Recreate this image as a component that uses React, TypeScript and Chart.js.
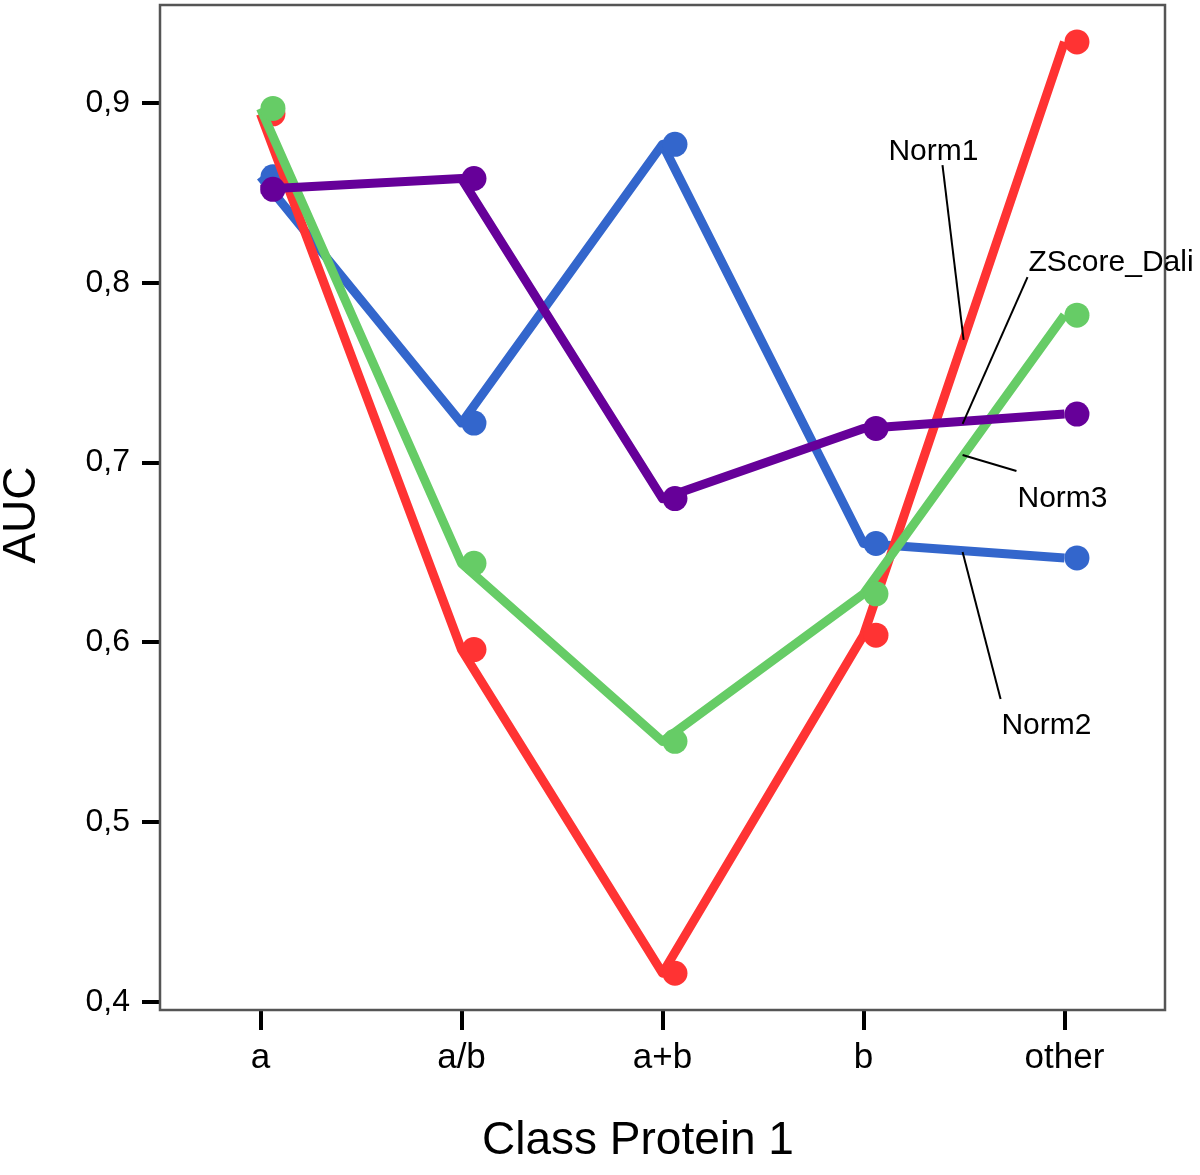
import React, { useEffect, useRef } from "react";
import { Chart, registerables } from "chart.js";

Chart.register(...registerables);

// ---- data ----
const categories = ["a", "a/b", "a+b", "b", "other"];
const norm1 = [0.894, 0.596, 0.416, 0.604, 0.934];
const norm2 = [0.859, 0.722, 0.877, 0.655, 0.647];
const norm3 = [0.897, 0.644, 0.545, 0.627, 0.782];
const zscoreDali = [0.852, 0.858, 0.68, 0.719, 0.727];
const yTickValues = [0.4, 0.5, 0.6, 0.7, 0.8, 0.9];
const seriesNames = ["Norm1", "Norm2", "Norm3", "ZScore_Dali"];

// label annotations (in data units: x = category index, y = AUC)
const annotations = [
  { text: "Norm1", align: "center", at: [3.348, 0.8727], from: [3.393, 0.8655], to: [3.498, 0.7682] },
  { text: "ZScore_Dali", align: "left", at: [3.821, 0.811], from: [3.816, 0.8032], to: [3.493, 0.7215] },
  { text: "Norm3", align: "center", at: [3.99, 0.6798], from: [3.761, 0.6953], to: [3.493, 0.7042] },
  { text: "Norm2", align: "center", at: [3.91, 0.5535], from: [3.682, 0.5685], to: [3.493, 0.6503] },
];

const COLORS = {
  Norm1: "#ff3333",
  Norm2: "#3366cc",
  Norm3: "#66cc66",
  ZScore_Dali: "#660099",
};
const MARKER_SHIFT = 0.062;
const FONT = "'Liberation Sans', Arial, sans-serif";

const seriesValues: Record<string, number[]> = {
  Norm1: norm1,
  Norm2: norm2,
  Norm3: norm3,
  ZScore_Dali: zscoreDali,
};
// drawing order: lower "order" is drawn on top
const seriesOrder: Record<string, number> = { ZScore_Dali: 1, Norm3: 3, Norm1: 5, Norm2: 7 };

const framePlugin = {
  id: "frameAndText",
  beforeDatasetsDraw(chart: any) {
    const { ctx, chartArea } = chart;
    ctx.save();
    ctx.strokeStyle = "#555555";
    ctx.lineWidth = 2.5;
    ctx.strokeRect(chartArea.left, chartArea.top, chartArea.right - chartArea.left, chartArea.bottom - chartArea.top);
    ctx.restore();
  },
  afterDraw(chart: any) {
    const { ctx } = chart;
    const xs = chart.scales.x;
    const ys = chart.scales.y;
    ctx.save();
    // annotations
    ctx.fillStyle = "#000";
    ctx.strokeStyle = "#000";
    ctx.lineWidth = 2;
    ctx.font = `30px ${FONT}`;
    ctx.textBaseline = "middle";
    for (const a of annotations) {
      ctx.beginPath();
      ctx.moveTo(xs.getPixelForValue(a.from[0]), ys.getPixelForValue(a.from[1]));
      ctx.lineTo(xs.getPixelForValue(a.to[0]), ys.getPixelForValue(a.to[1]));
      ctx.stroke();
      ctx.textAlign = a.align as CanvasTextAlign;
      ctx.fillText(a.text, xs.getPixelForValue(a.at[0]), ys.getPixelForValue(a.at[1]));
    }
    // axis titles
    ctx.font = `46px ${FONT}`;
    ctx.textAlign = "center";
    ctx.textBaseline = "middle";
    ctx.fillText("Class Protein 1", 638, 1141);
    ctx.translate(22, 515);
    ctx.rotate(-Math.PI / 2);
    ctx.fillText("AUC", 0, 0);
    ctx.restore();
  },
};

export default function App() {
  const canvasRef = useRef<HTMLCanvasElement | null>(null);

  useEffect(() => {
    if (!canvasRef.current) return;
    const datasets: any[] = [];
    for (const name of seriesNames) {
      const vals = seriesValues[name];
      datasets.push({
        label: name,
        data: vals.map((v, i) => ({ x: i, y: v })),
        borderColor: COLORS[name as keyof typeof COLORS],
        backgroundColor: COLORS[name as keyof typeof COLORS],
        borderWidth: 9,
        pointRadius: 0,
        tension: 0,
        borderJoinStyle: "round",
        order: seriesOrder[name] + 1,
      });
      datasets.push({
        label: name + " markers",
        data: vals.map((v, i) => ({ x: i + MARKER_SHIFT, y: v })),
        showLine: false,
        pointRadius: 12.5,
        pointBorderWidth: 0,
        pointBackgroundColor: COLORS[name as keyof typeof COLORS],
        pointBorderColor: COLORS[name as keyof typeof COLORS],
        order: seriesOrder[name],
      });
    }

    const chart = new Chart(canvasRef.current, {
      type: "line",
      data: { datasets },
      options: {
        responsive: false,
        animation: false,
        events: [],
        layout: { autoPadding: false, padding: { left: 0, top: 5, right: 35, bottom: 0 } },
        plugins: {
          legend: { display: false },
          tooltip: { enabled: false },
          title: { display: false },
        },
        scales: {
          x: {
            type: "linear",
            min: -0.5,
            max: 4.5,
            bounds: "data",
            afterBuildTicks: (scale: any) => {
              scale.ticks = categories.map((_, i) => ({ value: i }));
            },
            afterFit: (scale: any) => {
              scale.height = 165;
              scale.paddingLeft = 0;
              scale.paddingRight = 0;
            },
            border: { display: false },
            grid: {
              display: true,
              drawOnChartArea: false,
              drawTicks: true,
              tickLength: 20,
              lineWidth: 4,
              tickWidth: 4,
              tickColor: "#000",
              color: "#000",
            },
            ticks: {
              autoSkip: false,
              maxRotation: 0,
              padding: 7,
              color: "#000",
              font: { family: FONT, size: 35 },
              callback: (v: any) => categories[Math.round(Number(v))] ?? "",
            },
          },
          y: {
            type: "linear",
            min: 0.39555,
            max: 0.95451,
            bounds: "data",
            afterBuildTicks: (scale: any) => {
              scale.ticks = yTickValues.map((v) => ({ value: v }));
            },
            afterFit: (scale: any) => {
              scale.width = 160;
              scale.paddingTop = 0;
              scale.paddingBottom = 0;
            },
            border: { display: false },
            grid: {
              display: true,
              drawOnChartArea: false,
              drawTicks: true,
              tickLength: 18,
              lineWidth: 4,
              tickWidth: 4,
              tickColor: "#000",
              color: "#000",
            },
            ticks: {
              padding: 12,
              color: "#000",
              font: { family: FONT, size: 32 },
              callback: (v: any) => Number(v).toFixed(1).replace(".", ","),
            },
          },
        },
      },
      plugins: [framePlugin],
    });
    return () => chart.destroy();
  }, []);

  return (
    <div style={{ position: "absolute", left: 0, top: 0, width: 1200, height: 1175, background: "#fff" }}>
      <canvas ref={canvasRef} width={1200} height={1175} />
    </div>
  );
}
